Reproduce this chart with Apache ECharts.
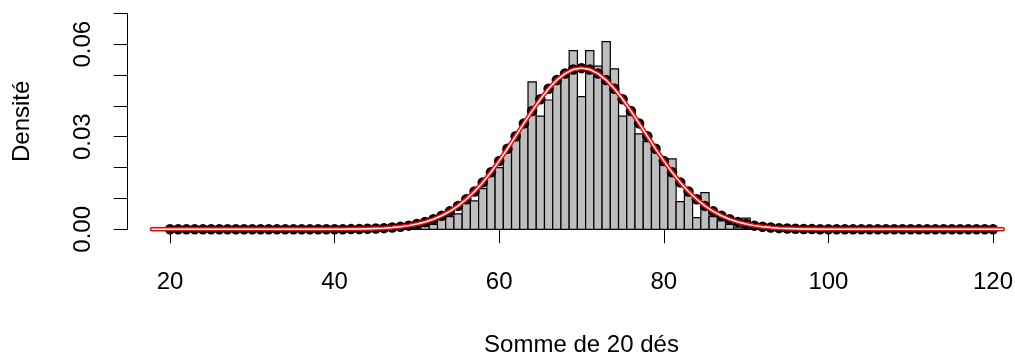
<!DOCTYPE html>
<html>
<head>
<meta charset="utf-8">
<script src="https://cdn.jsdelivr.net/npm/echarts@6/dist/echarts.min.js"></script>
<style>
  html, body { margin: 0; padding: 0; background: #fff; }
  #chart { width: 1015px; height: 354px; }
</style>
</head>
<body>
<div id="chart"></div>
<script>
// histogramme : première classe centrée sur 46, une classe par somme
const premiereClasse = 46
const densiteObservee = [
  0, 0.0002, 0.0003, 0.0006, 0.0010, 0.0010, 0.0016, 0.0045, 0.0041, 0.0050,
  0.0084, 0.0092, 0.0132, 0.0172, 0.0200, 0.0255, 0.0287, 0.0330, 0.0478, 0.0367,
  0.0419, 0.0473, 0.0506, 0.0579, 0.0430, 0.0579, 0.0529, 0.0608, 0.0520, 0.0367,
  0.0378, 0.0309, 0.0284, 0.0252, 0.0208, 0.0228, 0.0090, 0.0110, 0.0038, 0.0119,
  0.0041, 0.0027, 0.0016, 0.0005, 0.0036, 0.0003, 0.0002
]

// points noirs : sommes 20 à 120
const premiereSomme = 20
const densiteTheorique = [
  0, 0, 0, 0, 0, 0, 0, 0, 0, 0,
  0, 0, 0, 0, 0, 0, 0, 0, 0, 0,
  0.00002, 0.00004, 0.00006, 0.00010, 0.00016, 0.00025, 0.00037, 0.00056, 0.00082, 0.00119,
  0.00169, 0.00237, 0.00325, 0.00439, 0.00582, 0.00759, 0.00973, 0.01227, 0.01520, 0.01851,
  0.02216, 0.02609, 0.03018, 0.03432, 0.03836, 0.04216, 0.04554, 0.04835, 0.05047, 0.05178,
  0.05223,
  0.05178, 0.05047, 0.04835, 0.04554, 0.04216, 0.03836, 0.03432, 0.03018, 0.02609, 0.02216,
  0.01851, 0.01520, 0.01227, 0.00973, 0.00759, 0.00582, 0.00439, 0.00325, 0.00237, 0.00169,
  0.00119, 0.00082, 0.00056, 0.00037, 0.00025, 0.00016, 0.00010, 0.00006, 0.00004, 0.00002,
  0, 0, 0, 0, 0, 0, 0, 0, 0, 0,
  0, 0, 0, 0, 0, 0, 0, 0, 0, 0
]

// courbe normale : prolongée un peu au-delà des points
const debutCourbe = 17.8
const finCourbe = 121.2

const xTicks = { min: 20, max: 120, interval: 20 }
const yTickLabels = ['0.00', '0.03', '0.06']
const xTitle = 'Somme de 20 dés'
const yTitle = 'Densité'

const font = '"Liberation Sans", Arial, Helvetica, sans-serif'

const barres = densiteObservee.map((v, i) => [premiereClasse + i, v])
const points = densiteTheorique.map((v, i) => [premiereSomme + i, v])
const courbe = [[debutCourbe, 0], ...points, [finCourbe, 0]]

// échelle : 20 -> 170 px, 120 -> 993 px
const pxParUnite = (993 - 170) / 100
const gaucheDonnees = 170 - (xTicks.min - debutCourbe) * pxParUnite
const droiteDonnees = 1015 - (993 + (finCourbe - xTicks.max) * pxParUnite)

const chart = echarts.init(document.getElementById('chart'), null, { renderer: 'canvas' })

const texte = { fontFamily: font, fontSize: 24, color: '#000' }

chart.setOption({
  animation: false,
  backgroundColor: '#fff',
  grid: [
    // zone des données (courbe comprise)
    { left: gaucheDonnees, right: droiteDonnees, top: 13.3, bottom: 124.7, outerBoundsMode: 'none' },
    // axe des x visible, de 20 à 120
    { left: 170, right: 22, top: 13.3, bottom: 124.7, outerBoundsMode: 'none' }
  ],
  xAxis: [
    {
      gridIndex: 0,
      type: 'value',
      min: debutCourbe,
      max: finCourbe,
      show: false
    },
    {
      gridIndex: 1,
      type: 'value',
      min: xTicks.min,
      max: xTicks.max,
      interval: xTicks.interval,
      offset: 9,
      name: xTitle,
      nameLocation: 'middle',
      nameGap: 95,
      nameTextStyle: texte,
      axisLine: { lineStyle: { color: '#000', width: 1 } },
      axisTick: { length: 14, lineStyle: { color: '#000', width: 1 } },
      axisLabel: Object.assign({ margin: 32 }, texte),
      splitLine: { show: false }
    }
  ],
  yAxis: [
    {
      gridIndex: 0,
      type: 'value',
      min: 0,
      max: 0.07,
      interval: 0.01,
      offset: gaucheDonnees - 127.7,
      name: yTitle,
      nameLocation: 'middle',
      nameRotate: 90,
      nameGap: 93,
      nameTextStyle: texte,
      axisLine: { show: true, lineStyle: { color: '#000', width: 1 } },
      axisTick: { show: true, length: 14, lineStyle: { color: '#000', width: 1 } },
      axisLabel: Object.assign({
        rotate: 90,
        margin: 32,
        showMaxLabel: true,
        formatter: v => {
          const s = v.toFixed(2)
          return yTickLabels.includes(s) ? s : ''
        }
      }, texte),
      splitLine: { show: false }
    },
    {
      gridIndex: 1,
      type: 'value',
      min: 0,
      max: 0.07,
      show: false
    }
  ],
  series: [
    {
      name: 'histogramme',
      type: 'custom',
      data: barres,
      renderItem: (params, api) => {
        const k = api.value(0)
        const v = api.value(1)
        const haut = api.coord([k - 0.5, v])
        const bas = api.coord([k + 0.5, 0])
        return {
          type: 'rect',
          shape: { x: haut[0], y: haut[1], width: bas[0] - haut[0], height: bas[1] - haut[1] },
          style: { fill: '#BEBEBE', stroke: '#000', lineWidth: 1.2 }
        }
      }
    },
    {
      name: 'points',
      type: 'scatter',
      data: points,
      symbol: 'circle',
      symbolSize: 10.5,
      itemStyle: { color: '#000', opacity: 1 },
      clip: false
    },
    {
      name: 'courbe',
      type: 'line',
      data: courbe,
      showSymbol: false,
      clip: false,
      lineStyle: { color: '#FF0000', width: 4.5, cap: 'round', join: 'round' }
    },
    {
      name: 'courbe blanche',
      type: 'line',
      data: courbe,
      showSymbol: false,
      clip: false,
      lineStyle: { color: '#FFFFFF', width: 1.5, cap: 'round', join: 'round' }
    }
  ]
})
</script>
</body>
</html>
